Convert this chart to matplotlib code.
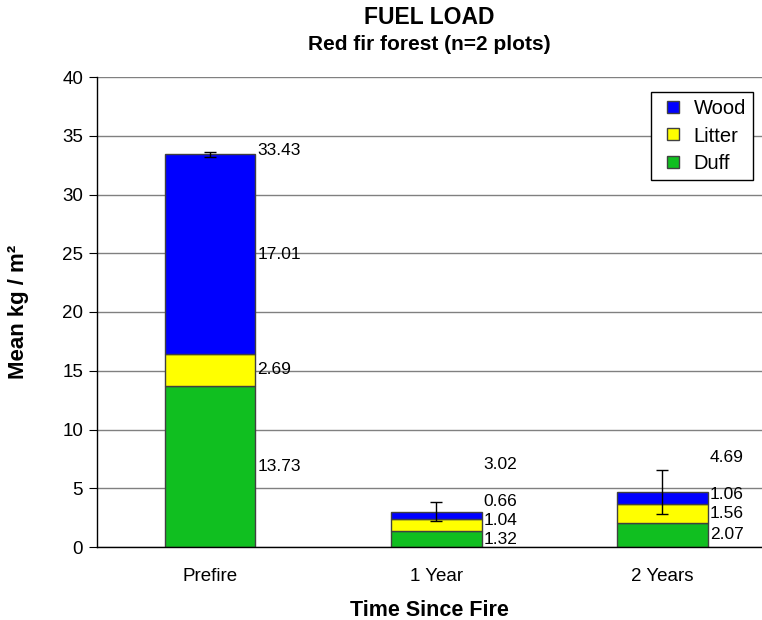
import matplotlib
matplotlib.use("Agg")
import matplotlib.pyplot as plt
from matplotlib.lines import Line2D
import numpy as np

plt.rcParams['font.family'] = ['Liberation Sans', 'DejaVu Sans']

categories = ["Prefire", "1 Year", "2 Years"]
duff = [13.73, 1.32, 2.07]
litter = [2.69, 1.04, 1.56]
wood = [17.01, 0.66, 1.06]
totals = [33.43, 3.02, 4.69]
errors = [0.2, 0.8, 1.9]

colors = {"Wood": "#0000FF", "Litter": "#FFFF00", "Duff": "#10BF20"}

fig = plt.figure(figsize=(7.62, 6.2), dpi=100)
ax = fig.add_axes([97/762, 73/620, 665/762, 470/620])

x = np.arange(len(categories))
w = 0.4
duff_a = np.array(duff); lit_a = np.array(litter); wood_a = np.array(wood)
ec = "#404040"
ax.bar(x, duff_a, w, color=colors["Duff"], edgecolor=ec, linewidth=1, label="Duff", zorder=3)
ax.bar(x, lit_a, w, bottom=duff_a, color=colors["Litter"], edgecolor=ec, linewidth=1, label="Litter", zorder=3)
ax.bar(x, wood_a, w, bottom=duff_a + lit_a, color=colors["Wood"], edgecolor=ec, linewidth=1, label="Wood", zorder=3)
ax.errorbar(x, totals, yerr=errors, fmt='none', ecolor='black', elinewidth=1, capsize=4, capthick=1, zorder=4)

ax.set_ylim(0, 40)
ax.set_xlim(-0.5, 2.44)
ax.set_yticks(np.arange(0, 41, 5))
ax.set_xticks(x)
ax.set_xticklabels(categories)
ax.tick_params(axis='y', direction='out', length=6, labelsize=13.5, pad=4)
ax.tick_params(axis='x', length=0, labelsize=13.5, pad=15)
ax.yaxis.grid(True, color="#808080", linewidth=1, zorder=0)
ax.set_axisbelow(True)
for s in ['top', 'right']:
    ax.spines[s].set_visible(False)
for s in ['left', 'bottom']:
    ax.spines[s].set_color('black')
    ax.spines[s].set_linewidth(1)
    ax.spines[s].set_zorder(5)

# data labels
min_gap = 1.6
for i in range(len(categories)):
    segs = [(duff[i], 0), (litter[i], duff[i]), (wood[i], duff[i] + litter[i])]
    prev = -10
    ys = []
    for val, bot in segs:
        y = max(bot + val / 2, prev + min_gap)
        ys.append(y)
        prev = y
    xr = x[i] + w / 2 + 0.01
    for (val, bot), y in zip(segs, ys):
        ax.text(xr, y, f"{val:.2f}", ha='left', va='center', fontsize=12.5, zorder=6)
    ty = max(totals[i] + 0.3, ys[-1] + 3.2)
    ax.text(xr, ty, f"{totals[i]:.2f}", ha='left', va='center', fontsize=12.5, zorder=6)

leg_names = ["Wood", "Litter", "Duff"]
handles = [Line2D([], [], linestyle='none', marker='s', markersize=9,
                  markerfacecolor=colors[n], markeredgecolor='#404040', markeredgewidth=1)
           for n in leg_names]
leg = ax.legend(handles, leg_names, loc='upper right',
                bbox_to_anchor=(0.9865, 0.968), fontsize=14.5, frameon=True,
                fancybox=False, edgecolor='black', framealpha=1,
                handlelength=1.5, handletextpad=0.25,
                borderpad=0.35, labelspacing=0.42, borderaxespad=0)
leg.get_frame().set_linewidth(1)

ax.set_ylabel("Mean kg / m²", fontsize=16, fontweight='bold', labelpad=24)
ax.set_xlabel("Time Since Fire", fontsize=15.5, fontweight='bold', labelpad=11)

cx = (97 + 762) / 2 / 762
fig.text(cx, 1 - 17/620, "FUEL LOAD", ha='center', va='center', fontsize=16.5, fontweight='bold')
fig.text(cx, 1 - 45/620, "Red fir forest (n=2 plots)", ha='center', va='center', fontsize=15, fontweight='bold')

fig.savefig("out.png", dpi=100)
